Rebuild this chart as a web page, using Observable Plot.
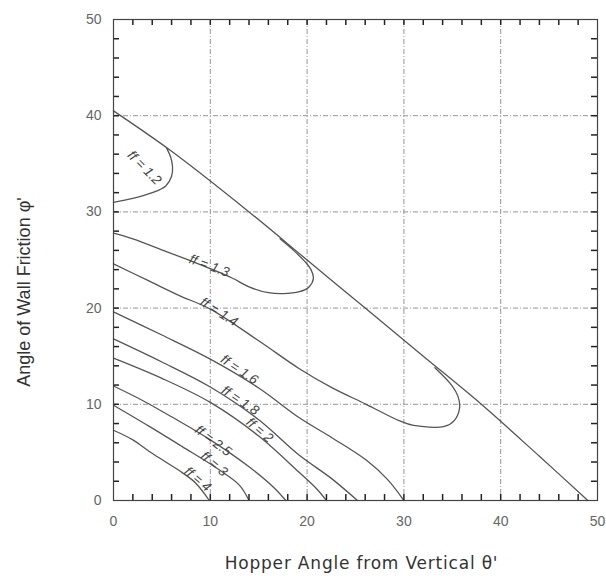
<!DOCTYPE html>
<html>
<head>
<meta charset="utf-8">
<script src="https://cdn.jsdelivr.net/npm/d3@7"></script>
<script src="https://cdn.jsdelivr.net/npm/@observablehq/plot@0.6"></script>
<style>
  body { margin: 0; background: #fff; }
  #chart svg { display: block; }
</style>
</head>
<body>
<div id="chart"></div>
<script>
// ---- axes ----
const xDomain = [0, 50];
const yDomain = [0, 50];
const xTicks = [0, 10, 20, 30, 40, 50];
const yTicks = [0, 10, 20, 30, 40, 50];
const xGrid = [10, 20, 30, 40];
const yGrid = [10, 20, 30, 40];
const minorTicks = [2,4,6,8,10,12,14,16,18,20,22,24,26,28,30,32,34,36,38,40,42,44,46,48];
const xTitle = "Hopper Angle from Vertical \u03B8'";
const yTitle = "Angle of Wall Friction \u03C6'";

// ---- curves [theta, phi] ----
const limitCurve = [[0,40.5],[6,36.3],[14,30],[20,25],[26,20],[32,15],[38,10],[44,4.6],[49,0]];
const ff12 = [[0,31],[2,31.4],[4,32],[5.4,32.7],[6,33.7],[6.1,34.7],[5.9,35.7],[5.5,36.6]];
const ff13 = [[0,27.8],[2,27.2],[5.4,25.9],[8,24.9],[10,24.1],[12.3,23.1],[14,22.2],[16,21.6],[17.5,21.5],[19.2,21.7],[20.2,22.2],[20.65,23.1],[20.4,24.0],[19.8,24.8],[18.6,26],[17.2,27.2]];
const ff14 = [[0,24.6],[3.5,22.9],[6.8,21.3],[10,19.9],[15,16.6],[19.2,13.7],[22.6,11.7],[26.1,10],[29.5,8.3],[31,7.8],[34.2,7.7],[35.2,8.3],[35.75,9.6],[35.6,10.8],[35,11.9],[33.2,13.8]];
const ff16 = [[0,19.6],[5,17.2],[10,14.7],[15,11.7],[19.2,8.6],[22.6,6.5],[26.1,4.2],[28.3,2.2],[30,0]];
const ff18 = [[0,16.8],[5,14.4],[10,11.8],[15,8.4],[19.2,4.7],[22.5,2.3],[25.2,0]];
const ff20 = [[0,14.8],[5,12.7],[10,10.2],[15,6.7],[19.2,2.9],[21,1.2],[22,0]];
const ff25 = [[0,11.9],[3,10.4],[6,8.7],[10,6.3],[14,3.5],[16.5,1.4],[17.8,0]];
const ff30 = [[0,9.9],[3.7,7.7],[7.1,5.6],[10.6,3.4],[13,1.6],[14,0]];
const ff40 = [[0,7.3],[2,6.3],[3.7,5.1],[5.4,4.0],[7.1,2.9],[8.5,1.8],[9.9,0]];

const curveNames = ["limit","1.2","1.3","1.4","1.6","1.8","2","2.5","3","4"];
const curveData = [limitCurve, ff12, ff13, ff14, ff16, ff18, ff20, ff25, ff30, ff40];

// ---- curve labels ----
const labelText = ["ff = 1.2","ff = 1.3","ff = 1.4","ff = 1.6","ff = 1.8","ff = 2","ff = 2.5","ff = 3","ff = 4"];
const labelX = [3.2, 9.9, 10.9, 13.0, 13.1, 15.1, 10.3, 10.4, 8.7];
const labelY = [34.6, 24.4, 19.6, 13.6, 10.4, 7.3, 6.2, 3.8, 2.2];
const labelAngle = [45, 20, 32, 34, 34, 40, 37, 40, 40];

const rows = curveData.flatMap((pts, i) => pts.map(([x, y]) => ({ff: curveNames[i], x, y})));
const labels = labelText.map((t, i) => ({t, x: labelX[i], y: labelY[i], a: labelAngle[i]}));
const tickRows = minorTicks.map(v => ({v}));

const W = 606, H = 582, ML = 113, MR = 9, MT = 19, MB = 82;
const innerW = W - ML - MR, innerH = H - MT - MB, TL = 6;

const gridStyle = {stroke: "#8a8a8a", strokeOpacity: 1, strokeWidth: 0.9, strokeDasharray: "5,2,1,2"};
const tickStyle = {stroke: "#222", strokeWidth: 1.5};

const chart = Plot.plot({
  width: W,
  height: H,
  marginLeft: ML,
  marginRight: MR,
  marginTop: MT,
  marginBottom: MB,
  x: {domain: xDomain},
  y: {domain: yDomain},
  style: {fontFamily: "'Liberation Sans', Arial, sans-serif", background: "#fff", color: "#333"},
  marks: [
    Plot.gridX(xGrid, gridStyle),
    Plot.gridY(yGrid, gridStyle),
    Plot.line(rows, {x: "x", y: "y", z: "ff", curve: "catmull-rom", stroke: "#555", strokeWidth: 1.3}),
    Plot.text(labels, {x: "x", y: "y", text: "t", rotate: "a", fontStyle: "italic", fontSize: 13.5, fill: "#444", textAnchor: "middle", lineAnchor: "middle"}),
    // inward ticks on all four sides
    Plot.tickX(tickRows, {x: "v", insetTop: innerH - TL, ...tickStyle}),
    Plot.tickX(tickRows, {x: "v", insetBottom: innerH - TL, ...tickStyle}),
    Plot.tickY(tickRows, {y: "v", insetRight: innerW - TL, ...tickStyle}),
    Plot.tickY(tickRows, {y: "v", insetLeft: innerW - TL, ...tickStyle}),
    Plot.axisX(xTicks, {anchor: "bottom", tickSize: 0, tickPadding: 16, fontSize: 14, fill: "#666", label: null}),
    Plot.axisY(yTicks, {anchor: "left", tickSize: 0, tickPadding: 12, fontSize: 14, fill: "#666", label: null}),
    Plot.frame({stroke: "#444", strokeWidth: 1.2}),
    Plot.text([xTitle], {text: d => d, frameAnchor: "bottom", dx: 6, dy: 68, fontSize: 17, fontFamily: "'DejaVu Sans', sans-serif", fill: "#333"}),
    Plot.text([yTitle], {text: d => d, frameAnchor: "left", textAnchor: "middle", dx: -89, dy: 32, rotate: -90, fontSize: 18, fill: "#333"})
  ]
});
chart.querySelectorAll("text").forEach(t => {
  if (t.textContent === xTitle) t.setAttribute("letter-spacing", "0.8");
});
document.getElementById("chart").appendChild(chart);
</script>
</body>
</html>
